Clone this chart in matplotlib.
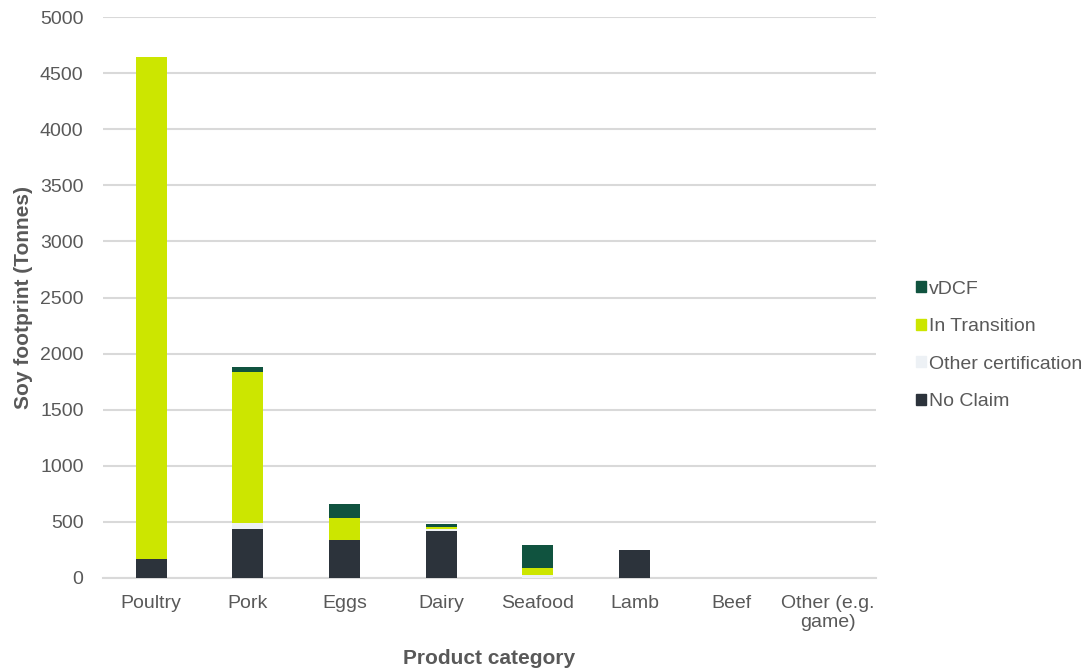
import numpy as np
import matplotlib
matplotlib.use('Agg')
import matplotlib.pyplot as plt
from matplotlib.patches import Patch

plt.rcParams['font.family'] = ['Liberation Sans', 'DejaVu Sans']

#data
categories = ['Poultry', 'Pork', 'Eggs', 'Dairy', 'Seafood', 'Lamb', 'Beef', 'Other (e.g.\ngame)']
no_claim = [165, 440, 340, 420, 0, 250, 0, 0]
other_cert = [0, 50, 0, 15, 27, 0, 0, 0]
in_transition = [4475, 1350, 195, 20, 62, 0, 0, 0]
vdcf = [0, 40, 125, 25, 205, 0, 0, 0]

series = [('No Claim', no_claim, '#2C333B'),
          ('Other certification', other_cert, '#EDF1F5'),
          ('In Transition', in_transition, '#CCE600'),
          ('vDCF', vdcf, '#10533F')]

txt = '#595959'

#%%
fig = plt.figure(figsize=(10.91, 6.72), dpi=100)
ax = fig.add_axes([103/1091, 94/672, 773/1091, 561/672])

x = np.arange(len(categories))
bottom = np.zeros(len(categories))
for name, vals, col in series:
    ax.bar(x, vals, 0.32, bottom=bottom, color=col, label=name, zorder=3)
    bottom += np.array(vals)

ax.set_xlim(-0.5, len(categories) - 0.5)
ax.set_ylim(0, 5000)
ax.set_yticks(np.arange(0, 5001, 500))
ax.yaxis.grid(True, color='#D9D9D9', linewidth=1.5, zorder=0)
ax.set_axisbelow(True)
for s in ['top', 'right', 'left']:
    ax.spines[s].set_visible(False)
ax.spines['bottom'].set_color('#D9D9D9')
ax.spines['bottom'].set_linewidth(1.5)
ax.tick_params(axis='y', length=0, labelsize=14, colors=txt, pad=14)
ax.tick_params(axis='x', length=0, labelsize=14, colors=txt, pad=12)
ax.set_xticks(x)
ax.set_xticklabels(categories)

ax.set_xlabel('Product category', fontsize=15, fontweight='bold', color=txt, labelpad=13)
ax.set_ylabel('Soy footprint (Tonnes)', fontsize=15, fontweight='bold', color=txt, labelpad=5)

handles = [Patch(color=c, label=n) for n, v, c in series[::-1]]
fig.legend(handles=handles, loc='center left', bbox_to_anchor=(0.831, 0.486),
           frameon=False, fontsize=14, handlelength=0.5, handleheight=0.5,
           handletextpad=0.15, labelspacing=1.05, borderpad=0, labelcolor=txt)

fig.savefig('out.png', dpi=100)
